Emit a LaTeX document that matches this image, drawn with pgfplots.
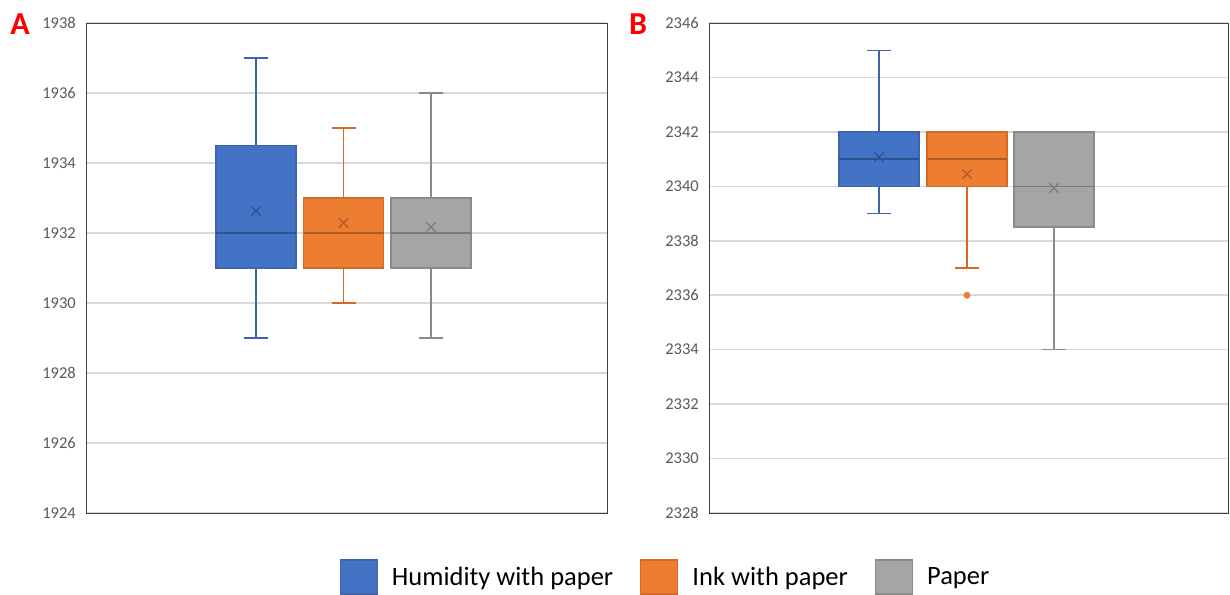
\documentclass[border=0pt]{standalone}
\usepackage{fontspec}
\setmainfont{Carlito}
\usepackage{pgfplots}
\pgfplotsset{compat=1.18}
\definecolor{hblue}{HTML}{4472C4}
\definecolor{hblueD}{HTML}{3D64AC}
\definecolor{hblueM}{HTML}{2F5290}
\definecolor{horange}{HTML}{ED7D31}
\definecolor{horangeD}{HTML}{D46A24}
\definecolor{horangeM}{HTML}{B45A22}
\definecolor{hgray}{HTML}{A5A5A5}
\definecolor{hgrayD}{HTML}{8A8A8A}
\definecolor{hgrayM}{HTML}{7A7A7A}
\definecolor{gridc}{HTML}{D9D9D9}
\definecolor{axisc}{HTML}{404040}
\definecolor{tickc}{HTML}{595959}
\pgfplotsset{
  common/.style={
    scale only axis,
    height=490pt,
    axis line style={draw=axisc, line width=1pt},
    ymajorgrids,
    grid style={gridc, line width=1.5pt},
    xtick=\empty,
    ytick distance=2,
    major tick length=0pt,
    yticklabel style={font=\fontsize{16.5}{18}\selectfont, text=tickc, inner sep=0pt, xshift=-10pt},
    /pgf/number format/.cd, set thousands separator={}, assume math mode=true, /pgfplots/.cd,
    clip=false,
  },
  bxs/.style 2 args={fill=#1, draw=#2, line width=1.4pt, line join=miter, mark=none, forget plot},
  wk/.style={draw=#1, line width=1.4pt, mark=none, forget plot},
  mn/.style={only marks, mark=x, mark size=6.5pt, draw=#1, mark options={line width=1.3pt, draw=#1}, forget plot},
  sq/.style 2 args={legend image code/.code={\draw[fill=#1, draw=#2, line width=1.2pt] (0pt,-17pt) rectangle (37pt,17pt);}},
}
\begin{document}
\begin{tikzpicture}
\useasboundingbox (0pt,0pt) rectangle (1230pt,-594pt);
\node[text=red, font=\fontsize{32}{32}\selectfont\bfseries] at (20pt,-24pt) {A};
\node[text=red, font=\fontsize{32}{32}\selectfont\bfseries] at (638pt,-24pt) {B};

\begin{axis}[common, at={(86pt,-513pt)}, anchor=south west, width=521pt,
  xmin=86, xmax=607, ymin=1924, ymax=1938,
  legend columns=3,
  legend style={at={(1.1123,-0.1306)}, anchor=center, draw=none, fill=none,
    font=\fontsize{26.5}{30}\selectfont,
    /tikz/every odd column/.append style={column sep=12pt},
    /tikz/every even column/.append style={column sep=25pt}},
  legend cell align=left]
% Humidity with paper: whiskers 1929/1937, box 1931-1934.5, median 1932
\addplot[wk=hblueD] coordinates {(256,1934.5) (256,1937)};
\addplot[wk=hblueD] coordinates {(244,1937) (268,1937)};
\addplot[wk=hblueD] coordinates {(256,1931) (256,1929)};
\addplot[wk=hblueD] coordinates {(244,1929) (268,1929)};
\addplot[bxs={hblue}{hblueD}] coordinates {(216,1931) (296,1931) (296,1934.5) (216,1934.5)} -- cycle;
\addplot[wk=hblueM] coordinates {(216,1932) (296,1932)};
% Ink with paper: whiskers 1930/1935, box 1931-1933, median 1932
\addplot[wk=horangeD] coordinates {(343.5,1933) (343.5,1935)};
\addplot[wk=horangeD] coordinates {(331.5,1935) (355.5,1935)};
\addplot[wk=horangeD] coordinates {(343.5,1931) (343.5,1930)};
\addplot[wk=horangeD] coordinates {(331.5,1930) (355.5,1930)};
\addplot[bxs={horange}{horangeD}] coordinates {(303.5,1931) (383.5,1931) (383.5,1933) (303.5,1933)} -- cycle;
\addplot[wk=horangeM] coordinates {(303.5,1932) (383.5,1932)};
% Paper: whiskers 1929/1936, box 1931-1933, median 1932
\addplot[wk=hgrayD] coordinates {(431,1933) (431,1936)};
\addplot[wk=hgrayD] coordinates {(419,1936) (443,1936)};
\addplot[wk=hgrayD] coordinates {(431,1931) (431,1929)};
\addplot[wk=hgrayD] coordinates {(419,1929) (443,1929)};
\addplot[bxs={hgray}{hgrayD}] coordinates {(391,1931) (471,1931) (471,1933) (391,1933)} -- cycle;
\addplot[wk=hgrayM] coordinates {(391,1932) (471,1932)};
% means
\addplot[mn=hblueM] coordinates {(256,1932.63)};
\addplot[mn=horangeM] coordinates {(343.5,1932.29)};
\addplot[mn=hgrayM] coordinates {(431,1932.17)};
\addlegendimage{sq={hblue}{hblueD}}
\addlegendentry{Humidity with paper}
\addlegendimage{sq={horange}{horangeD}}
\addlegendentry{Ink with paper}
\addlegendimage{sq={hgray}{hgrayD}}
\addlegendentry{Paper}
\end{axis}

\begin{axis}[common, at={(709pt,-513pt)}, anchor=south west, width=519pt,
  xmin=709, xmax=1228, ymin=2328, ymax=2346]
% Humidity with paper: whiskers 2339/2345, box 2340-2342, median 2341
\addplot[wk=hblueD] coordinates {(879,2342) (879,2345)};
\addplot[wk=hblueD] coordinates {(867,2345) (891,2345)};
\addplot[wk=hblueD] coordinates {(879,2340) (879,2339)};
\addplot[wk=hblueD] coordinates {(867,2339) (891,2339)};
\addplot[bxs={hblue}{hblueD}] coordinates {(839,2340) (919,2340) (919,2342) (839,2342)} -- cycle;
\addplot[wk=hblueM] coordinates {(839,2341) (919,2341)};
% Ink with paper: whiskers 2337/2342, box 2340-2342, median 2341, outlier 2336
\addplot[wk=horangeD] coordinates {(967,2340) (967,2337)};
\addplot[wk=horangeD] coordinates {(955,2337) (979,2337)};
\addplot[bxs={horange}{horangeD}] coordinates {(927,2340) (1007,2340) (1007,2342) (927,2342)} -- cycle;
\addplot[wk=horangeM] coordinates {(927,2341) (1007,2341)};
\addplot[only marks, mark=*, mark size=3.2pt, draw=horange, fill=horange, forget plot] coordinates {(967,2336)};
% Paper: whiskers 2334/2342, box 2338.5-2342, median 2340
\addplot[wk=hgrayD] coordinates {(1054,2338.5) (1054,2334)};
\addplot[wk=hgrayD] coordinates {(1042,2334) (1066,2334)};
\addplot[bxs={hgray}{hgrayD}] coordinates {(1014,2338.5) (1094,2338.5) (1094,2342) (1014,2342)} -- cycle;
\addplot[wk=hgrayM] coordinates {(1014,2340) (1094,2340)};
% means
\addplot[mn=hblueM] coordinates {(879,2341.08)};
\addplot[mn=horangeM] coordinates {(967,2340.45)};
\addplot[mn=hgrayM] coordinates {(1054,2339.94)};
\end{axis}
\end{tikzpicture}
\end{document}
